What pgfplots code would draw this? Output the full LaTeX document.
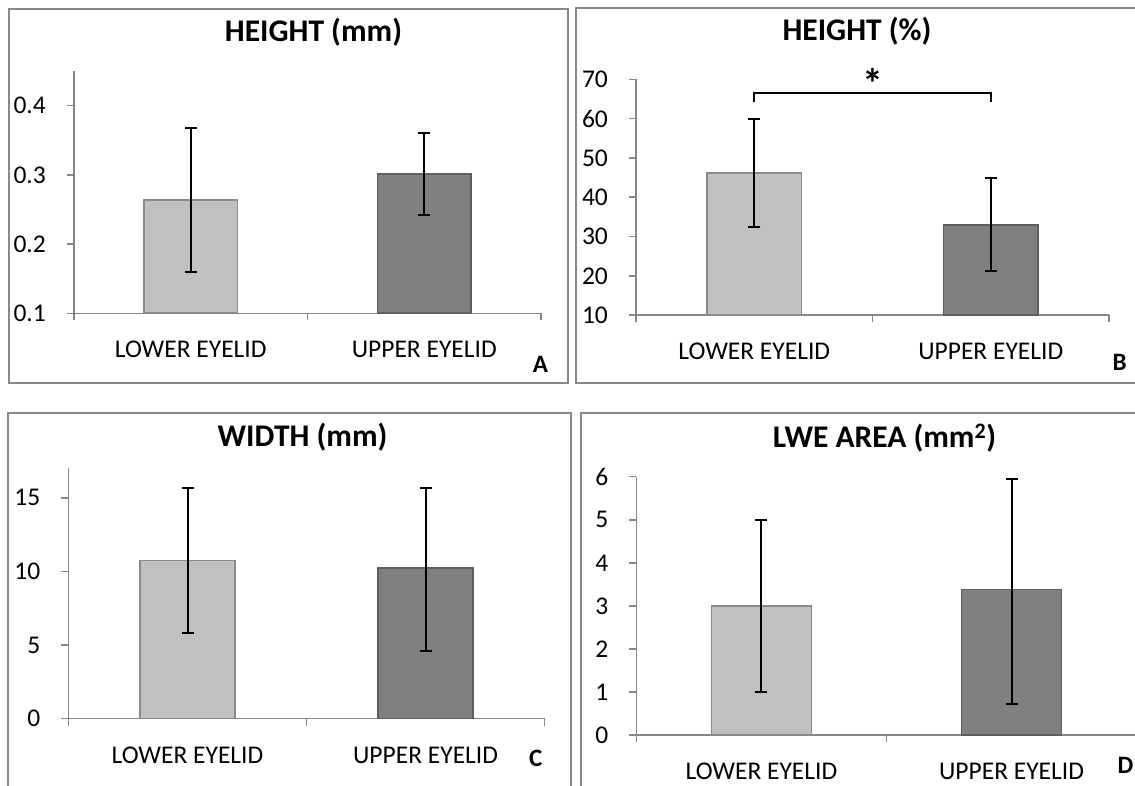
\documentclass[border=0pt]{standalone}
\usepackage{pgfplots}
\pgfplotsset{compat=1.18}
\usepackage{fontspec}
\setmainfont{Carlito}
\definecolor{lightfill}{RGB}{192,192,192}
\definecolor{lightedge}{RGB}{138,138,138}
\definecolor{darkfill}{RGB}{128,128,128}
\definecolor{darkedge}{RGB}{95,95,95}
\definecolor{axisgray}{RGB}{134,134,134}
\definecolor{framegray}{RGB}{137,137,137}
\pgfplotsset{
  panel/.style={
    scale only axis, anchor=south west,
    axis x line*=bottom, axis y line*=left,
    axis line style={draw=axisgray, line width=1.5pt, -},
    tick style={draw=axisgray, line width=1.5pt},
    tick align=outside, major tick length=7pt,
    xmin=-0.5, xmax=1.5,
    xtick={-0.5,0.5,1.5}, xticklabels={,,},
    extra x ticks={0,1},
    extra x tick labels={LOWER EYELID, UPPER EYELID},
    extra x tick style={major tick length=0pt, tick style={draw=none}},
    x tick label style={font=\fontsize{25.5}{30}\selectfont, anchor=base, inner sep=0pt, yshift=-44.7pt},
    y tick label style={font=\fontsize{25.5}{30}\selectfont, anchor=east, inner sep=0pt, xshift=-21pt},
    /pgf/number format/assume math mode=true,
    ybar, bar width=0.4,
    clip mode=individual,
  },
  lowbar/.style={fill=lightfill, draw=lightedge, line width=1.6pt, bar shift=0pt,
    error bars/.cd, y dir=both, y explicit,
    error bar style={black, line width=2pt},
    error mark options={black, line width=2pt, mark size=6pt, rotate=90}},
  upbar/.style={fill=darkfill, draw=darkedge, line width=1.6pt, bar shift=0pt,
    error bars/.cd, y dir=both, y explicit,
    error bar style={black, line width=2pt},
    error mark options={black, line width=2pt, mark size=6pt, rotate=90}},
}
\newcommand{\ttl}{\fontsize{31.5}{36}\selectfont\bfseries}
\newcommand{\lett}{\fontsize{25}{30}\selectfont\bfseries}
\begin{document}
\begin{tikzpicture}
\useasboundingbox (0,0) rectangle (1135pt,785pt);
\clip (0,0) rectangle (1135pt,785pt);
\fill[white] (0,0) rectangle (1135pt,785pt);
% frames
\draw[framegray, line width=2pt] (9pt,401.7pt) rectangle (568pt,775.7pt);
\draw[framegray, line width=2pt] (576pt,401.7pt) rectangle (1145pt,776.7pt);
\draw[framegray, line width=2pt] (8pt,-10pt) rectangle (571pt,371.7pt);
\draw[framegray, line width=2pt] (581pt,-10pt) rectangle (1145pt,371.7pt);

% Panel A
\begin{axis}[panel, at={(74pt,471.7pt)}, width=467pt, height=242.3pt,
  ymin=0.1, ymax=0.45, ytick={0.1,0.2,0.3,0.4}]
\addplot[lowbar] coordinates {(0,0.264) +- (0,0.104)};
\addplot[upbar] coordinates {(1,0.301) +- (0,0.059)};
\end{axis}
\node[anchor=base] at (313.5pt,743.3pt) {\ttl HEIGHT (mm)};
\node[anchor=base] at (540.5pt,412.3pt) {\lett A};

% Panel B
\begin{axis}[panel, at={(636.1pt,469.8pt)}, width=472.9pt, height=235.9pt,
  ymin=10, ymax=70, ytick={10,20,30,40,50,60,70}]
\addplot[lowbar] coordinates {(0,46.2) +- (0,13.8)};
\addplot[upbar] coordinates {(1,33.0) +- (0,11.8)};
\draw[black, line width=2pt] (axis cs:0,64.2) -- (axis cs:0,66.5) -- (axis cs:1,66.5) -- (axis cs:1,64.2);
\node[anchor=base, inner sep=0pt] at (axis cs:0.5,65.2) {\fontsize{42}{48}\selectfont\bfseries *};
\end{axis}
\node[anchor=base] at (857pt,744pt) {\ttl HEIGHT (\%)};
\node[anchor=base] at (1119.7pt,414pt) {\lett B};

% Panel C
\begin{axis}[panel, at={(68.5pt,66.4pt)}, width=476.1pt, height=250.2pt,
  ymin=0, ymax=17, ytick={0,5,10,15}]
\addplot[lowbar] coordinates {(0,10.75) +- (0,4.9)};
\addplot[upbar] coordinates {(1,10.23) += (0,5.42) -= (0,5.64)};
\end{axis}
\node[anchor=base] at (302.6pt,338.7pt) {\ttl WIDTH (mm)};
\node[anchor=base] at (535.7pt,18.6pt) {\lett C};

% Panel D
\begin{axis}[panel, at={(636.4pt,49.9pt)}, width=500.2pt, height=258.4pt,
  ymin=0, ymax=6, ytick={0,1,2,3,4,5,6}]
\addplot[lowbar] coordinates {(0,3.0) +- (0,2.0)};
\addplot[upbar] coordinates {(1,3.38) += (0,2.57) -= (0,2.66)};
\end{axis}
\node[anchor=base] at (884.5pt,337pt) {\ttl LWE AREA (mm\textsuperscript{2})};
\node[anchor=base] at (1125.5pt,11.7pt) {\lett D};
\end{tikzpicture}
\end{document}
